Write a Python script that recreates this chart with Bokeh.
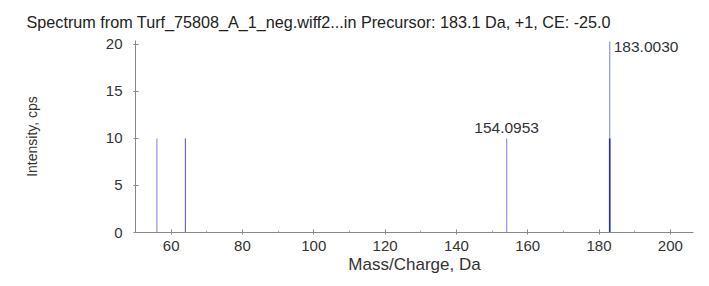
from bokeh.plotting import figure
from bokeh.models import Range1d, Label, FixedTicker
from bokeh.embed import file_html
from bokeh.resources import INLINE

# Data
mz_light = [56.0, 154.0953, 183.0030]
int_light = [10.0, 10.0, 20.3]
mz_mid = [64.0]
int_mid = [10.0]
mz_dark = [183.0]
int_dark = [10.0]
peak_labels = ["154.0953", "183.0030"]
peak_label_mz = [154.0953, 183.0030]
peak_label_int = [10.0, 20.3]
x_ticks = [60, 80, 100, 120, 140, 160, 180, 200]
x_minor = [50, 70, 90, 110, 130, 150, 170, 190]
y_ticks = [0, 5, 10, 15, 20]
title_text = "Spectrum from Turf_75808_A_1_neg.wiff2...in Precursor: 183.1 Da, +1, CE: -25.0"

FONT = "Liberation Sans"

p = figure(width=701, height=278, output_backend="svg", toolbar_location=None,
           x_range=Range1d(50, 206.5), y_range=Range1d(0, 20.4),
           min_border_left=135, min_border_right=8, min_border_top=39, min_border_bottom=46)
p.outline_line_color = None
p.grid.visible = False
p.background_fill_color = "white"

p.segment(x0=mz_light, y0=[0]*len(mz_light), x1=mz_light, y1=int_light,
          line_color="#9a9ae8", line_width=1.3)
p.segment(x0=mz_mid, y0=[0]*len(mz_mid), x1=mz_mid, y1=int_mid,
          line_color="#6a6ab8", line_width=1.2)
p.segment(x0=mz_dark, y0=[0]*len(mz_dark), x1=mz_dark, y1=int_dark,
          line_color="#2a2ab8", line_width=1.6)

# peak labels
p.add_layout(Label(x=peak_label_mz[0], y=peak_label_int[0], text=peak_labels[0],
                   text_align="center", text_baseline="bottom", y_offset=5,
                   text_font=FONT, text_font_size="15.5px", text_color="#333333"))
p.add_layout(Label(x=peak_label_mz[1], y=peak_label_int[1], text=peak_labels[1],
                   text_align="left", text_baseline="top", x_offset=4, y_offset=-1,
                   text_font=FONT, text_font_size="15.5px", text_color="#333333"))

for ax in (p.xaxis[0], p.yaxis[0]):
    ax.axis_line_color = "#888888"
    ax.major_tick_line_color = "#888888"
    ax.minor_tick_line_color = "#aaaaaa"
    ax.major_tick_in = 3
    ax.major_tick_out = 2
    ax.minor_tick_in = 2
    ax.minor_tick_out = 0
    ax.major_label_text_font = FONT
    ax.major_label_text_font_size = "15px"
    ax.major_label_text_color = "#333333"
    ax.axis_label_text_font = FONT
    ax.axis_label_text_font_style = "normal"
    ax.axis_label_text_color = "#333333"

p.xaxis.axis_label_text_font_size = "17px"
p.yaxis.axis_label_text_font_size = "14px"
p.xaxis.ticker = FixedTicker(ticks=x_ticks, minor_ticks=x_minor)
p.yaxis.ticker = FixedTicker(ticks=y_ticks, minor_ticks=[])
p.xaxis.axis_label = "Mass/Charge, Da"
p.yaxis.axis_label = "Intensity, cps"
p.xaxis.major_label_standoff = 6
p.xaxis.axis_label_standoff = 1
p.yaxis.major_label_standoff = 11
p.yaxis.axis_label_standoff = 63

p.title.text = title_text
p.title.text_font = FONT
p.title.text_font_size = "16.2px"
p.title.text_font_style = "normal"
p.title.text_color = "#222222"
p.title.align = "left"
p.title.offset = -109
p.title.standoff = 20

open("out.html", "w").write(file_html(p, INLINE))
